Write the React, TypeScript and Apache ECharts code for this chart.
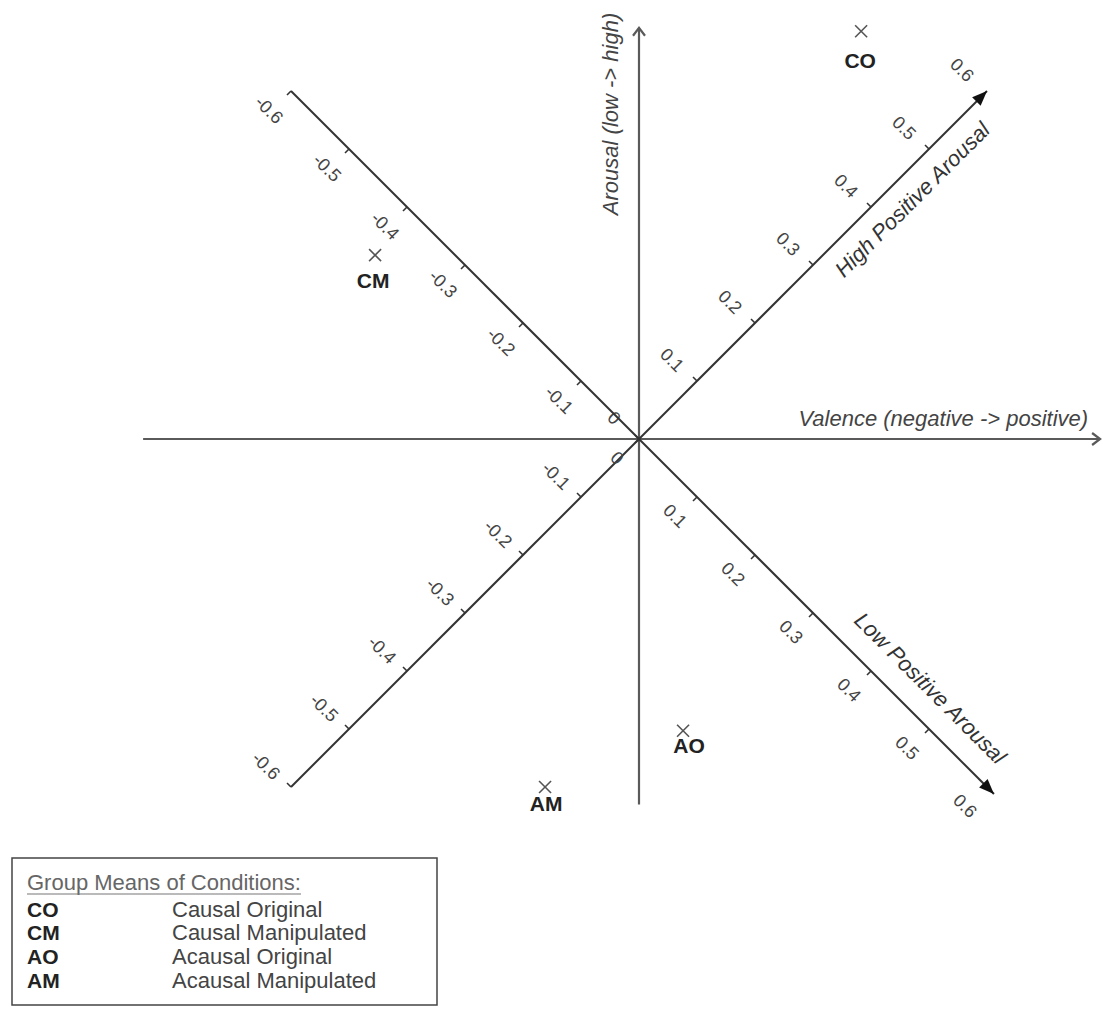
import React, { useEffect, useRef } from "react";
import * as echarts from "echarts";

// ---- data ----
const POINT_CODES = ["CO", "CM", "AO", "AM"];
const POINT_NAMES = ["Causal Original", "Causal Manipulated", "Acausal Original", "Acausal Manipulated"];
const POINT_VALENCE = [0.383, -0.455, 0.076, -0.162];
const POINT_AROUSAL = [0.703, 0.317, -0.503, -0.6];

const DIAG_TICKS = [-0.6, -0.5, -0.4, -0.3, -0.2, -0.1, 0, 0.1, 0.2, 0.3, 0.4, 0.5, 0.6];
const DIAG_TICK_LABELS = ["-0.6", "-0.5", "-0.4", "-0.3", "-0.2", "-0.1", "0", "0.1", "0.2", "0.3", "0.4", "0.5", "0.6"];

const VALENCE_AXIS_RANGE = [-0.855, 0.795];
const AROUSAL_AXIS_RANGE = [-0.63, 0.709];
const HIGH_AXIS_RANGE = [-0.6, 0.6];
const LOW_AXIS_RANGE = [-0.6, 0.612];

const VALENCE_TITLE = "Valence (negative -> positive)";
const AROUSAL_TITLE = "Arousal (low -> high)";
const HIGH_TITLE = "High Positive Arousal";
const LOW_TITLE = "Low Positive Arousal";
const LEGEND_TITLE = "Group Means of Conditions:";

// ---- styles ----
const FONT = "Liberation Sans, Arial, Helvetica, sans-serif";
const LABEL_OFFSETS = [
  [-1, 29],
  [-2, 25],
  [6, 15],
  [1, 16],
];

function renderFrame(params: any, api: any) {
  const c = (x: number, y: number) => api.coord([x, y]);
  const children: any[] = [];
  const mainStroke = { stroke: "#5a5a5a", lineWidth: 2.2 };
  const diagStroke = { stroke: "#333", lineWidth: 2 };

  // horizontal valence axis
  const h0 = c(VALENCE_AXIS_RANGE[0], 0);
  const h1 = c(VALENCE_AXIS_RANGE[1], 0);
  children.push({ type: "line", shape: { x1: h0[0], y1: h0[1], x2: h1[0], y2: h1[1] }, style: mainStroke });
  children.push({
    type: "polyline",
    shape: { points: [[h1[0] - 8, h1[1] - 6], [h1[0], h1[1]], [h1[0] - 8, h1[1] + 6]] },
    style: { ...mainStroke, fill: "none" },
  });
  // vertical arousal axis
  const v0 = c(0, AROUSAL_AXIS_RANGE[0]);
  const v1 = c(0, AROUSAL_AXIS_RANGE[1]);
  children.push({ type: "line", shape: { x1: v0[0], y1: v0[1], x2: v1[0], y2: v1[1] }, style: mainStroke });
  children.push({
    type: "polyline",
    shape: { points: [[v1[0] - 6, v1[1] + 8], [v1[0], v1[1]], [v1[0] + 6, v1[1] + 8]] },
    style: { ...mainStroke, fill: "none" },
  });

  // diagonal axes
  const diag = (range: number[], sy: number, labelOff: number[], tickDir: number[]) => {
    const a = c(range[0], sy * range[0]);
    const b = c(range[1], sy * range[1]);
    children.push({ type: "line", shape: { x1: a[0], y1: a[1], x2: b[0], y2: b[1] }, style: diagStroke });
    // arrowhead at the positive end
    const dx = b[0] - a[0];
    const dy = b[1] - a[1];
    const len = Math.sqrt(dx * dx + dy * dy);
    const ux = dx / len;
    const uy = dy / len;
    const L = 15;
    const W = 6;
    const bx = b[0] - ux * L;
    const by = b[1] - uy * L;
    children.push({
      type: "polygon",
      shape: { points: [[b[0], b[1]], [bx - uy * W, by + ux * W], [bx + uy * W, by - ux * W]] },
      style: { fill: "#111" },
    });
    DIAG_TICKS.forEach((t, i) => {
      const p = c(t, sy * t);
      if (t < range[1] - 0.05) {
        children.push({
          type: "line",
          shape: { x1: p[0], y1: p[1], x2: p[0] + tickDir[0], y2: p[1] + tickDir[1] },
          style: { stroke: "#333", lineWidth: 1.6 },
        });
      }
      children.push({
        type: "text",
        x: p[0] + labelOff[0],
        y: p[1] + labelOff[1],
        rotation: -Math.PI / 4,
        style: {
          text: DIAG_TICK_LABELS[i],
          fill: "#444",
          fontSize: 18,
          fontFamily: FONT,
          align: "center",
          verticalAlign: "middle",
        },
      });
    });
  };
  diag(HIGH_AXIS_RANGE, 1, [-25, -21], [-4, -4]);
  diag(LOW_AXIS_RANGE, -1, [-22, 19], [-4, 4]);

  // axis titles
  children.push({
    type: "text",
    x: h1[0] - 12,
    y: h1[1] - 21,
    style: {
      text: VALENCE_TITLE,
      fill: "#444",
      fontSize: 22,
      fontStyle: "italic",
      fontFamily: FONT,
      align: "right",
      verticalAlign: "middle",
    },
  });
  children.push({
    type: "text",
    x: v1[0] - 29,
    y: v1[1] - 15,
    rotation: Math.PI / 2,
    style: {
      text: AROUSAL_TITLE,
      fill: "#444",
      fontSize: 22,
      fontStyle: "italic",
      fontFamily: FONT,
      align: "right",
      verticalAlign: "middle",
    },
  });
  const hp = c(0.442, 0.442);
  children.push({
    type: "text",
    x: hp[0] + 17,
    y: hp[1] + 17,
    rotation: Math.PI / 4,
    style: {
      text: HIGH_TITLE,
      fill: "#333",
      fontSize: 22,
      fontStyle: "italic",
      fontFamily: FONT,
      align: "center",
      verticalAlign: "middle",
    },
  });
  const lp = c(0.466, -0.466);
  children.push({
    type: "text",
    x: lp[0] + 21,
    y: lp[1] - 21,
    rotation: -Math.PI / 4,
    style: {
      text: LOW_TITLE,
      fill: "#333",
      fontSize: 22,
      fontStyle: "italic",
      fontFamily: FONT,
      align: "center",
      verticalAlign: "middle",
    },
  });

  return { type: "group", children };
}

function renderPoint(params: any, api: any) {
  const i = params.dataIndex;
  const p = api.coord([api.value(0), api.value(1)]);
  const s = 6;
  const st = { stroke: "#555", lineWidth: 1.6 };
  const off = LABEL_OFFSETS[i];
  return {
    type: "group",
    children: [
      { type: "line", shape: { x1: p[0] - s, y1: p[1] - s, x2: p[0] + s, y2: p[1] + s }, style: st },
      { type: "line", shape: { x1: p[0] - s, y1: p[1] + s, x2: p[0] + s, y2: p[1] - s }, style: st },
      {
        type: "text",
        x: p[0] + off[0],
        y: p[1] + off[1],
        style: {
          text: POINT_CODES[i],
          fill: "#222",
          fontSize: 21,
          fontWeight: "bold",
          fontFamily: FONT,
          align: "center",
          verticalAlign: "middle",
        },
      },
    ],
  };
}

function buildLegend() {
  const children: any[] = [];
  children.push({
    type: "rect",
    shape: { x: 12, y: 858, width: 425, height: 147 },
    style: { fill: "#fff", stroke: "#444", lineWidth: 1.5 },
  });
  children.push({
    type: "text",
    x: 27,
    y: 882,
    style: { text: LEGEND_TITLE, fill: "#666", fontSize: 22, fontFamily: FONT, align: "left", verticalAlign: "middle" },
  });
  children.push({
    type: "line",
    shape: { x1: 27, y1: 894, x2: 301, y2: 894 },
    style: { stroke: "#777", lineWidth: 1.2 },
  });
  POINT_CODES.forEach((code, i) => {
    const y = 909 + i * 23.7;
    children.push({
      type: "text",
      x: 27,
      y,
      style: { text: code, fill: "#222", fontSize: 21, fontWeight: "bold", fontFamily: FONT, align: "left", verticalAlign: "middle" },
    });
    children.push({
      type: "text",
      x: 172,
      y,
      style: { text: POINT_NAMES[i], fill: "#444", fontSize: 22, fontFamily: FONT, align: "left", verticalAlign: "middle" },
    });
  });
  return children;
}

export default function App() {
  const ref = useRef<HTMLDivElement>(null);
  useEffect(() => {
    if (!ref.current) return;
    const chart = echarts.init(ref.current, null, { renderer: "svg" });
    const X_MIN = -0.86;
    const X_MAX = 0.8;
    const Y_MIN = -0.64;
    const Y_MAX = 0.72;
    chart.setOption({
      animation: false,
      backgroundColor: "#fff",
      grid: { left: 140.2, right: 0, top: 21.4, bottom: 199.8, containLabel: false },
      xAxis: { type: "value", min: X_MIN, max: X_MAX, show: false },
      yAxis: { type: "value", min: Y_MIN, max: Y_MAX, show: false },
      series: [
        {
          type: "custom",
          name: "frame",
          coordinateSystem: "cartesian2d",
          data: [[0, 0]],
          renderItem: renderFrame,
          silent: true,
          clip: false,
          z: 1,
        },
        {
          type: "custom",
          name: "means",
          coordinateSystem: "cartesian2d",
          data: POINT_CODES.map((_, i) => [POINT_VALENCE[i], POINT_AROUSAL[i]]),
          renderItem: renderPoint,
          clip: false,
          z: 3,
        },
      ],
      graphic: buildLegend(),
    });
    return () => chart.dispose();
  }, []);
  return <div ref={ref} style={{ position: "absolute", left: 0, top: 0, width: 1103, height: 1010 }} />;
}
